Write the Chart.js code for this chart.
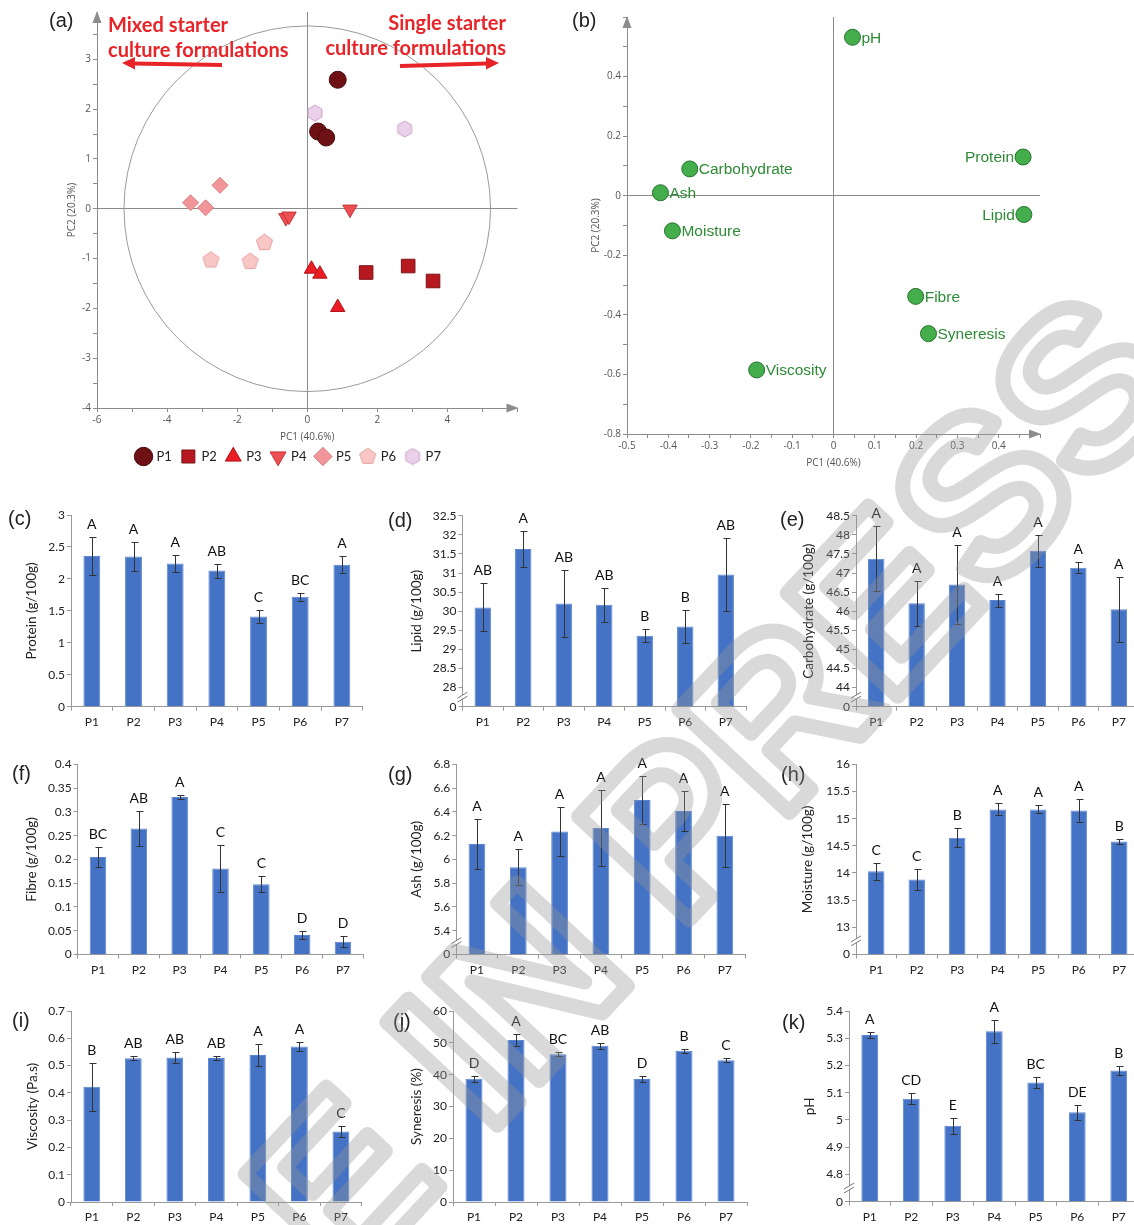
<!DOCTYPE html>
<html>
<head>
<meta charset="utf-8">
<title>Starter culture formulations</title>
<script src="https://cdn.jsdelivr.net/npm/chart.js@4.4.1/dist/chart.umd.min.js"></script>
<style>
  html, body { margin: 0; padding: 0; background: #fff; }
  body { position: relative; width: 1134px; height: 1225px; overflow: hidden; font-family: "Liberation Sans", Arial, sans-serif; }
  canvas { position: absolute; }
  .tag { position: absolute; font-size: 20px; line-height: 24px; color: #222; z-index: 2; }
  .note { position: absolute; color: #e82429; font: bold 20px Lato, sans-serif; line-height: 25px; z-index: 3; white-space: nowrap; }
  svg { position: absolute; left: 0; top: 0; z-index: 3; }
  #wm { pointer-events: none; z-index: 6; left: 0; top: 0; }
</style>
</head>
<body>
<canvas id="ca"></canvas>
<canvas id="cb"></canvas>
<canvas id="cc"></canvas>
<canvas id="cd"></canvas>
<canvas id="ce"></canvas>
<canvas id="cf"></canvas>
<canvas id="cg"></canvas>
<canvas id="ch"></canvas>
<canvas id="ci"></canvas>
<canvas id="cj"></canvas>
<canvas id="ck"></canvas>

<div class="tag" style="left:49px;top:8px">(a)</div>
<div class="tag" style="left:572px;top:8px">(b)</div>
<div class="tag" style="left:8px;top:506px">(c)</div>
<div class="tag" style="left:388px;top:508px">(d)</div>
<div class="tag" style="left:780px;top:507px">(e)</div>
<div class="tag" style="left:12px;top:761px">(f)</div>
<div class="tag" style="left:388px;top:762px">(g)</div>
<div class="tag" style="left:781px;top:762px">(h)</div>
<div class="tag" style="left:12px;top:1008px">(i)</div>
<div class="tag" style="left:393px;top:1009px">(j)</div>
<div class="tag" style="left:782px;top:1010px">(k)</div>

<div class="note" style="left:108px;top:11.5px">Mixed starter<br>culture formulations</div>
<div class="note" style="right:628px;top:9.5px;text-align:right">Single starter<br>culture formulations</div>
<svg width="575" height="90">
  <g fill="#e82429" stroke="#e82429">
    <line x1="222" y1="65" x2="133" y2="63.5" stroke-width="4"/>
    <polygon points="122,63 135,57 135,69.5" stroke="none"/>
    <line x1="400" y1="66" x2="487" y2="63.5" stroke-width="4"/>
    <polygon points="499,63 486,57 486,69.5" stroke="none"/>
  </g>
</svg>
<canvas id="wm"></canvas>

<script>
Chart.defaults.font.family = 'Lato, sans-serif';
Chart.defaults.color = '#222';

const cats = ['P1', 'P2', 'P3', 'P4', 'P5', 'P6', 'P7'];

// (a) PCA scores, [PC1, PC2] per replicate
const scoreP1 = [[0.87, 2.59], [0.31, 1.55], [0.54, 1.43]];
const scoreP2 = [[1.68, -1.28], [2.88, -1.15], [3.59, -1.45]];
const scoreP3 = [[0.12, -1.21], [0.36, -1.31], [0.87, -1.98]];
const scoreP4 = [[-0.61, -0.18], [-0.52, -0.15], [1.22, -0.01]];
const scoreP5 = [[-3.33, 0.12], [-2.90, 0.02], [-2.49, 0.47]];
const scoreP6 = [[-2.75, -1.03], [-1.63, -1.06], [-1.22, -0.68]];
const scoreP7 = [[0.22, 1.92], [2.78, 1.60]];

// (b) PCA loadings
const loadNames = ['pH', 'Protein', 'Carbohydrate', 'Ash', 'Lipid', 'Moisture', 'Fibre', 'Syneresis', 'Viscosity'];
const loadPC1 = [0.046, 0.459, -0.348, -0.419, 0.461, -0.390, 0.199, 0.230, -0.186];
const loadPC2 = [0.532, 0.130, 0.090, 0.010, -0.063, -0.118, -0.338, -0.463, -0.585];

// (c)-(k) means, standard deviations and significance groups
const protein = [2.36, 2.35, 2.24, 2.13, 1.41, 1.72, 2.22];
const proteinSd = [0.30, 0.23, 0.135, 0.11, 0.10, 0.065, 0.135];
const proteinGrp = ['A', 'A', 'A', 'AB', 'C', 'BC', 'A'];

const lipid = [30.10, 31.63, 30.20, 30.17, 29.36, 29.60, 30.96];
const lipidSd = [0.63, 0.47, 0.87, 0.44, 0.17, 0.44, 0.95];
const lipidGrp = ['AB', 'A', 'AB', 'AB', 'B', 'B', 'AB'];

const carb = [47.37, 46.21, 46.70, 46.29, 47.58, 47.14, 46.05];
const carbSd = [0.85, 0.59, 1.03, 0.17, 0.41, 0.14, 0.85];
const carbGrp = ['A', 'A', 'A', 'A', 'A', 'A', 'A'];

const fibre = [0.205, 0.265, 0.331, 0.181, 0.148, 0.041, 0.027];
const fibreSd = [0.022, 0.037, 0.0035, 0.049, 0.017, 0.0075, 0.011];
const fibreGrp = ['BC', 'AB', 'A', 'C', 'C', 'D', 'D'];

const ash = [6.13, 5.935, 6.234, 6.265, 6.50, 6.408, 6.20];
const ashSd = [0.21, 0.153, 0.206, 0.323, 0.20, 0.168, 0.263];
const ashGrp = ['A', 'A', 'A', 'A', 'A', 'A', 'A'];

const moisture = [14.03, 13.88, 14.65, 15.17, 15.17, 15.15, 14.58];
const moistureSd = [0.15, 0.19, 0.18, 0.11, 0.075, 0.22, 0.04];
const moistureGrp = ['C', 'C', 'B', 'A', 'A', 'A', 'B'];

const viscosity = [0.422, 0.527, 0.530, 0.528, 0.539, 0.570, 0.258];
const viscositySd = [0.088, 0.007, 0.020, 0.008, 0.040, 0.017, 0.019];
const viscosityGrp = ['B', 'AB', 'AB', 'AB', 'A', 'A', 'C'];

const syneresis = [38.7, 50.9, 46.4, 49.1, 38.6, 47.5, 44.5];
const syneresisSd = [0.85, 1.9, 0.6, 0.95, 0.85, 0.65, 0.65];
const syneresisGrp = ['D', 'A', 'BC', 'AB', 'D', 'B', 'C'];

const ph = [5.312, 5.078, 4.979, 5.326, 5.138, 5.028, 5.182];
const phSd = [0.012, 0.021, 0.030, 0.042, 0.019, 0.028, 0.016];
const phGrp = ['A', 'CD', 'E', 'A', 'BC', 'DE', 'B'];

const num = (v) => String(Math.round(v * 1000) / 1000);

function place(id, left, top, w, h) {
  const cv = document.getElementById(id);
  cv.width = w;
  cv.height = h;
  cv.style.left = left + 'px';
  cv.style.top = top + 'px';
  return cv;
}

// error bars, group letters and the axis break mark
function errorPlugin(sd, groups, broken, step) {
  return {
    id: 'errBars',
    afterDatasetsDraw(chart) {
      const { ctx } = chart;
      const ys = chart.scales.y;
      const vals = chart.data.datasets[0].data;
      ctx.save();
      ctx.strokeStyle = '#333';
      ctx.lineWidth = 1;
      ctx.fillStyle = '#111';
      ctx.font = '14px Lato, sans-serif';
      ctx.textAlign = 'center';
      ctx.textBaseline = 'bottom';
      chart.getDatasetMeta(0).data.forEach((bar, i) => {
        const x = Math.round(bar.x) + 0.5;
        const top = Math.round(ys.getPixelForValue(vals[i] + sd[i])) + 0.5;
        const bot = Math.round(ys.getPixelForValue(vals[i] - sd[i])) + 0.5;
        ctx.beginPath();
        ctx.moveTo(x, top); ctx.lineTo(x, bot);
        ctx.moveTo(x - 3, top); ctx.lineTo(x + 4, top);
        ctx.moveTo(x - 3, bot); ctx.lineTo(x + 4, bot);
        ctx.stroke();
        ctx.fillText(groups[i], bar.x, top - 6);
      });
      ctx.restore();
    },
    afterDraw(chart) {
      if (!broken) return;
      const { ctx, chartArea } = chart;
      const ys = chart.scales.y;
      const x = chartArea.left;
      const ym = (ys.getPixelForValue(ys.min) + ys.getPixelForValue(ys.min + step)) / 2;
      ctx.save();
      ctx.fillStyle = '#fff';
      ctx.fillRect(x - 2, ym - 2, 4, 4);
      ctx.strokeStyle = '#777';
      ctx.lineWidth = 1;
      ctx.beginPath();
      [-2, 2].forEach((d) => {
        ctx.moveTo(x - 5, ym + d + 3);
        ctx.lineTo(x + 5, ym + d - 3);
      });
      ctx.stroke();
      ctx.restore();
    }
  };
}

function barChart(id, o) {
  const cv = place(id, o.left, o.top, o.width, o.height);
  const font = { family: 'Lato, sans-serif', size: 12 };
  new Chart(cv, {
    type: 'bar',
    data: {
      labels: cats,
      datasets: [{
        data: o.values,
        base: o.min,
        backgroundColor: '#4472C4',
        borderColor: '#5b86d2',
        borderWidth: 1,
        categoryPercentage: 0.5,
        barPercentage: 0.81
      }]
    },
    options: {
      responsive: false,
      animation: false,
      events: [],
      layout: { padding: { top: o.topY - o.top, right: o.left + o.width - o.right, left: 0, bottom: 0 } },
      plugins: { legend: { display: false }, tooltip: { enabled: false } },
      scales: {
        x: {
          grid: { drawOnChartArea: false, tickLength: 4, color: '#999' },
          border: { color: '#999' },
          ticks: { color: '#222', font, padding: 4 },
          afterFit: (s) => { s.height = o.top + o.height - o.bottomY; }
        },
        y: {
          min: o.min,
          max: o.max,
          grid: { drawOnChartArea: false, tickLength: 4, color: '#999' },
          border: { color: '#999' },
          ticks: {
            stepSize: o.step,
            autoSkip: false,
            color: '#222',
            font,
            padding: 2,
            callback: (v) => (o.broken && Math.abs(v - o.min) < 1e-6 ? '0' : num(v))
          },
          title: {
            display: true,
            text: o.title,
            color: '#222',
            font: { family: 'Lato, sans-serif', size: 13.5 },
            padding: { top: o.titleX - o.left - 8.1, bottom: 0 }
          },
          afterFit: (s) => { s.width = o.axisX - o.left; }
        }
      }
    },
    plugins: [errorPlugin(o.sd, o.grp, o.broken, o.step)]
  });
}

barChart('cc', { left: 0, top: 500, width: 378, height: 235, axisX: 71, topY: 515, bottomY: 706.7, right: 362.7,
  min: 0, max: 3, step: 0.5, values: protein, sd: proteinSd, grp: proteinGrp, title: 'Protein (g/100g)', titleX: 32 });
barChart('cd', { left: 378, top: 500, width: 378, height: 235, axisX: 462.5, topY: 515.7, bottomY: 706.7, right: 746,
  min: 27.5, max: 32.5, step: 0.5, broken: true, values: lipid, sd: lipidSd, grp: lipidGrp, title: 'Lipid (g/100g)', titleX: 417 });
barChart('ce', { left: 756, top: 500, width: 384, height: 235, axisX: 856, topY: 515.7, bottomY: 706.7, right: 1139,
  min: 43.5, max: 48.5, step: 0.5, broken: true, values: carb, sd: carbSd, grp: carbGrp, title: 'Carbohydrate (g/100g)', titleX: 809 });

barChart('cf', { left: 0, top: 748, width: 378, height: 237, axisX: 77.6, topY: 764.3, bottomY: 954.5, right: 363.4,
  min: 0, max: 0.4, step: 0.05, values: fibre, sd: fibreSd, grp: fibreGrp, title: 'Fibre (g/100g)', titleX: 32 });
barChart('cg', { left: 378, top: 748, width: 378, height: 237, axisX: 456.3, topY: 764.3, bottomY: 954.5, right: 745.5,
  min: 5.2, max: 6.8, step: 0.2, broken: true, values: ash, sd: ashSd, grp: ashGrp, title: 'Ash (g/100g)', titleX: 417 });
barChart('ch', { left: 756, top: 748, width: 385, height: 237, axisX: 856, topY: 764.3, bottomY: 954.5, right: 1139.5,
  min: 12.5, max: 16, step: 0.5, broken: true, values: moisture, sd: moistureSd, grp: moistureGrp, title: 'Moisture (g/100g)', titleX: 808 });

barChart('ci', { left: 0, top: 995, width: 378, height: 230, axisX: 71, topY: 1011, bottomY: 1202, right: 361.7,
  min: 0, max: 0.7, step: 0.1, values: viscosity, sd: viscositySd, grp: viscosityGrp, title: 'Viscosity (Pa.s)', titleX: 33 });
barChart('cj', { left: 378, top: 995, width: 378, height: 230, axisX: 453, topY: 1011, bottomY: 1202, right: 747,
  min: 0, max: 60, step: 10, values: syneresis, sd: syneresisSd, grp: syneresisGrp, title: 'Syneresis (%)', titleX: 417 });
barChart('ck', { left: 756, top: 995, width: 386, height: 230, axisX: 849, topY: 1011, bottomY: 1201.7, right: 1139.5,
  min: 4.7, max: 5.4, step: 0.1, broken: true, values: ph, sd: phSd, grp: phGrp, title: 'pH', titleX: 810 });

// arrow heads at the ends of the PCA axes
const axisArrows = {
  id: 'axisArrows',
  afterDraw(chart) {
    const { ctx, chartArea: a } = chart;
    ctx.save();
    ctx.fillStyle = '#8c8c8c';
    ctx.beginPath();
    ctx.moveTo(a.right + 1, a.bottom);
    ctx.lineTo(a.right - 11, a.bottom - 4.5);
    ctx.lineTo(a.right - 11, a.bottom + 4.5);
    ctx.closePath();
    ctx.moveTo(a.left, a.top - 1);
    ctx.lineTo(a.left - 4.5, a.top + 11);
    ctx.lineTo(a.left + 4.5, a.top + 11);
    ctx.closePath();
    ctx.fill();
    ctx.restore();
  }
};

function pcaAxis(min, max, step, label, fmt, fit, titlePad) {
  const font = { family: '"Open Sans", sans-serif', size: 10 };
  return {
    type: 'linear',
    min, max,
    ticks: {
      stepSize: step, autoSkip: false, includeBounds: false, maxRotation: 0, minRotation: 0,
      padding: 2, color: '#555', font, callback: fmt
    },
    grid: {
      drawOnChartArea: true,
      color: (c) => (c.tick && Math.abs(c.tick.value) < 1e-9 ? '#8c8c8c' : 'rgba(0,0,0,0)'),
      tickColor: '#8c8c8c',
      tickLength: 4
    },
    border: { color: '#8c8c8c' },
    title: { display: true, text: label, color: '#555', font, padding: titlePad },
    afterFit: fit
  };
}

function polyMarker(n, r, fill, stroke) {
  const c = document.createElement('canvas');
  const s = Math.ceil(2 * r + 2);
  c.width = s;
  c.height = s;
  const g = c.getContext('2d');
  g.beginPath();
  for (let k = 0; k < n; k++) {
    const ang = -Math.PI / 2 + (k * 2 * Math.PI) / n;
    const px = s / 2 + r * Math.cos(ang);
    const py = s / 2 + r * Math.sin(ang);
    if (k) g.lineTo(px, py); else g.moveTo(px, py);
  }
  g.closePath();
  g.fillStyle = fill;
  g.fill();
  g.strokeStyle = stroke;
  g.lineWidth = 1;
  g.stroke();
  return c;
}

// (a) score plot
const scoreStyles = [
  { label: 'P1', pts: scoreP1, style: 'circle', r: 8.5, bg: '#6d1115', bd: '#470a0d' },
  { label: 'P2', pts: scoreP2, style: 'rect', r: 9.6, bg: '#b5191f', bd: '#7c1015' },
  { label: 'P3', pts: scoreP3, style: 'triangle', r: 8.3, bg: '#ea1d25', bd: '#b31218' },
  { label: 'P4', pts: scoreP4, style: 'triangle', r: 8.3, rot: 180, bg: '#ee4f53', bd: '#c53135' },
  { label: 'P5', pts: scoreP5, style: 'rectRot', r: 8, bg: '#f1959a', bd: '#d97b80' },
  { label: 'P6', pts: scoreP6, style: polyMarker(5, 8.5, '#f8c6c4', '#e3a5a3'), r: 8.5, bg: '#f8c6c4', bd: '#e3a5a3' },
  { label: 'P7', pts: scoreP7, style: polyMarker(6, 8, '#ebd0ea', '#c9a3c6'), r: 8, bg: '#ebd0ea', bd: '#c9a3c6' }
];

const confEllipse = {
  id: 'confEllipse',
  beforeDatasetsDraw(chart) {
    const { ctx } = chart;
    const xs = chart.scales.x;
    const ys = chart.scales.y;
    const cx = xs.getPixelForValue(0);
    const cy = ys.getPixelForValue(0);
    ctx.save();
    ctx.strokeStyle = '#9a9a9a';
    ctx.lineWidth = 1;
    ctx.beginPath();
    ctx.ellipse(cx, cy, xs.getPixelForValue(5.23) - cx, cy - ys.getPixelForValue(3.67), 0, 0, Math.PI * 2);
    ctx.stroke();
    ctx.restore();
  }
};

new Chart(place('ca', 0, 0, 575, 473), {
  type: 'scatter',
  data: {
    datasets: scoreStyles.map((s) => ({
      label: s.label,
      data: s.pts.map((p) => ({ x: p[0], y: p[1] })),
      pointStyle: s.style,
      pointRadius: s.r,
      pointRotation: s.rot || 0,
      backgroundColor: s.bg,
      borderColor: s.bd,
      borderWidth: 1
    }))
  },
  options: {
    responsive: false,
    animation: false,
    events: [],
    layout: { padding: { top: 12, right: 57.5, left: 60.5, bottom: 0 } },
    plugins: {
      tooltip: { enabled: false },
      legend: {
        position: 'bottom',
        labels: { usePointStyle: true, color: '#222', padding: 10, font: { family: 'Lato, sans-serif', size: 13 } }
      }
    },
    scales: {
      x: pcaAxis(-6, 6, 1, 'PC1 (40.6%)', (v) => (v % 2 === 0 && v < 6 ? String(v) : ''),
        (s) => { s.height = 32; }, { top: 0, bottom: -3 }),
      y: pcaAxis(-4, 3.95, 0.5, 'PC2 (20.3%)', (v) => (Number.isInteger(v) ? String(v) : ''),
        (s) => { s.width = 36.5; }, { top: 5.5, bottom: 0 })
    }
  },
  plugins: [confEllipse, axisArrows]
});

// (b) loading plot
const loadLabels = {
  id: 'loadLabels',
  afterDatasetsDraw(chart) {
    const { ctx } = chart;
    ctx.save();
    ctx.fillStyle = '#2e8b36';
    ctx.font = '15.5px "Liberation Sans", Arial, sans-serif';
    ctx.textBaseline = 'middle';
    chart.getDatasetMeta(0).data.forEach((pt, i) => {
      const onLeft = loadPC1[i] > 0.4;
      ctx.textAlign = onLeft ? 'right' : 'left';
      ctx.fillText(loadNames[i], pt.x + (onLeft ? -9 : 9), pt.y + 1);
    });
    ctx.restore();
  }
};

const fmt2 = (v) => String(Math.round(v * 100) / 100);

new Chart(place('cb', 575, 0, 559, 475), {
  type: 'scatter',
  data: {
    datasets: [{
      data: loadPC1.map((x, i) => ({ x, y: loadPC2[i] })),
      pointRadius: 8,
      backgroundColor: '#45ae4c',
      borderColor: '#277330',
      borderWidth: 1
    }]
  },
  options: {
    responsive: false,
    animation: false,
    events: [],
    layout: { padding: { top: 17, right: 94, left: 0, bottom: 0 } },
    plugins: { legend: { display: false }, tooltip: { enabled: false } },
    scales: {
      x: pcaAxis(-0.5, 0.5, 0.05, 'PC1 (40.6%)', (v, i) => (i % 2 === 0 && v < 0.45 ? fmt2(v) : ''),
        (s) => { s.height = 41; }, { top: 0, bottom: 6 }),
      y: pcaAxis(-0.8, 0.6, 0.1, 'PC2 (20.3%)', (v, i) => (i % 2 === 0 && v < 0.55 ? fmt2(v) : ''),
        (s) => { s.width = 52; }, { top: 15, bottom: 0 })
    }
  },
  plugins: [loadLabels, axisArrows]
});

// "ARTICLE IN PRESS" overlay
const wm = place('wm', 0, 0, 1134, 1225);
const w = wm.getContext('2d');
w.translate(1188, 385);
w.rotate((-47 * Math.PI) / 180);
w.font = 'bold 220px "Liberation Sans", Arial, sans-serif';
w.textAlign = 'right';
w.lineJoin = 'round';
w.lineWidth = 15;
w.strokeStyle = 'rgba(150,150,150,0.36)';
w.strokeText('ARTICLE IN PRESS', 0, 0);
</script>
</body>
</html>
